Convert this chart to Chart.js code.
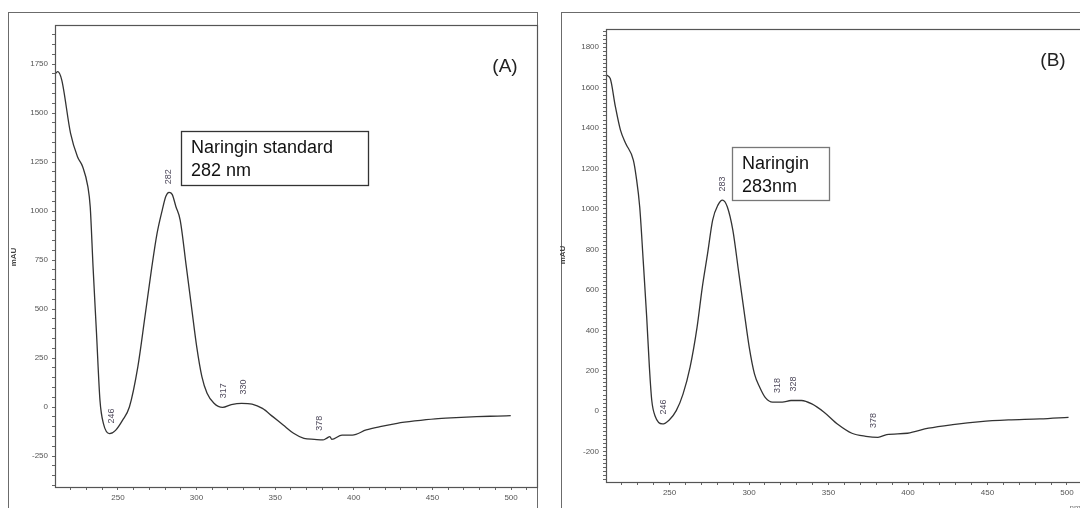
<!DOCTYPE html>
<html>
<head>
<meta charset="utf-8">
<script src="https://cdn.jsdelivr.net/npm/chart.js@4.4.1/dist/chart.umd.min.js"></script>
<style>
html, body { margin:0; padding:0; width:1080px; height:508px; overflow:hidden; background:#fff; }
.frame { position:absolute; border:1px solid #6b6b6b; box-sizing:border-box; border-bottom:none; }
canvas { position:absolute; top:0; }
</style>
</head>
<body>
<div class="frame" style="left:8px;top:12px;width:530px;height:500px;"></div>
<div class="frame" style="left:561px;top:12px;width:600px;height:500px;border-right:none;"></div>
<canvas id="chartA" width="540" height="508" style="left:0"></canvas>
<canvas id="chartB" width="550" height="508" style="left:540px"></canvas>
<script>
// spectrum (A) - naringin standard
const nmA  = [210, 211.7, 214.3, 219.9, 224.3, 227.6, 230.9, 232.4, 234.2, 236.4, 238.6, 240.8, 244.7, 248.5, 252.9, 257.3,
              262.7, 267.2, 271.6, 274.9, 278.2, 280.5, 282.5, 284.5, 286.9, 289.6, 293.5, 296.8, 300.1, 303.4, 306.7, 311.1,
              316.6, 322.1, 328.7, 335.3, 341.9, 348.5, 355.1, 361.7, 368.3, 374.9, 380.4, 382.6, 384.8, 386, 392.5, 399.1,
              407.9, 416.7, 427.6, 438.7, 451.8, 465, 478.2, 491.4, 499.8];
const mauA = [1699, 1711, 1668, 1396, 1277, 1226, 1124, 1021, 715, 375, 34, -85, -136, -119, -68, 0,
              206, 461, 716, 886, 1005, 1075, 1095, 1085, 1022, 954, 716, 511, 308, 155, 70, 19,
              -2, 12, 19, 15, -7, -49, -92, -134, -160, -165, -168, -160, -151, -165, -143, -143,
              -117, -100, -83, -71, -60, -54, -49, -46, -44];
const peaksA = [246, 282, 317, 330, 378];

// spectrum (B) - naringin in sample
const nmB  = [209.9, 212.6, 215.9, 219.1, 222.4, 227.2, 229, 231.2, 233.4, 235.6, 237.3, 238.8, 241, 245.4, 249.8, 254.2,
              258.5, 262.9, 267.3, 270.6, 273.9, 277.1, 280.4, 283.3, 286.3, 289.8, 293.6, 296.8, 300.1, 303.4, 306.7, 310.4,
              314.8, 320.9, 326.4, 333, 339.5, 347.2, 356, 364.7, 373.5, 381.1, 386.6, 399.7, 412.9, 428.2, 445.7, 463.2,
              482.9, 501];
const mauB = [1663, 1646, 1506, 1390, 1324, 1242, 1159, 1011, 746, 466, 218, 53, -26, -63, -43, 3,
              86, 218, 416, 614, 779, 945, 1019, 1044, 1011, 895, 680, 499, 317, 185, 119, 66,
              45, 45, 53, 53, 36, -5, -66, -109, -124, -129, -116, -109, -84, -66, -51, -43,
              -38, -30];
const peaksB = [246, 283, 318, 328, 378];

const xMajor  = [250, 300, 350, 400, 450, 500];
const yMajorA = [-250, 0, 250, 500, 750, 1000, 1250, 1500, 1750];
const yMajorB = [-200, 0, 200, 400, 600, 800, 1000, 1200, 1400, 1600, 1800];

const FONT = "'Liberation Sans', Arial, sans-serif";

function stepTicks(from, to, step) {
    const out = [];
    for (let v = from; v <= to; v += step) out.push(v);
    return out;
}

function valueAt(xs, ys, x) {
    for (let i = 1; i < xs.length; i++) {
        if (x <= xs[i]) {
            const t = (x - xs[i-1]) / (xs[i] - xs[i-1]);
            return ys[i-1] + t * (ys[i] - ys[i-1]);
        }
    }
    return ys[ys.length - 1];
}

// frame, peak labels, boxes and panel letters
const decoPlugin = {
    id: 'deco',
    afterDatasetsDraw(chart, args, o) {
        const ctx = chart.ctx, a = chart.chartArea;
        const sx = chart.scales.x, sy = chart.scales.y;
        ctx.save();
        ctx.strokeStyle = '#555';
        ctx.lineWidth = 1.2;
        ctx.strokeRect(a.left + 0.5, a.top + 0.5, a.right - a.left, a.bottom - a.top);

        // peak wavelengths, rotated
        ctx.fillStyle = '#4f4a5c';
        ctx.font = '9px ' + FONT;
        ctx.textAlign = 'left';
        ctx.textBaseline = 'middle';
        o.peaks.forEach(p => {
            const px = sx.getPixelForValue(p);
            const py = sy.getPixelForValue(valueAt(o.xs, o.ys, p)) - 9;
            ctx.save();
            ctx.translate(px, py);
            ctx.rotate(-Math.PI / 2);
            ctx.fillText(String(p), 0, 0);
            ctx.restore();
        });

        // axis title
        ctx.save();
        ctx.translate(o.mau[0], o.mau[1]);
        ctx.rotate(-Math.PI / 2);
        ctx.textAlign = 'center';
        ctx.fillStyle = '#444';
        ctx.font = 'bold 8px ' + FONT;
        ctx.fillText('mAU', 0, 0);
        ctx.restore();

        if (o.unit) {
            ctx.fillStyle = '#777';
            ctx.font = '8px ' + FONT;
            ctx.textAlign = 'center';
            ctx.fillText(o.unit[2], o.unit[0], o.unit[1]);
        }

        // panel letter
        ctx.fillStyle = '#222';
        ctx.font = '19px ' + FONT;
        ctx.textAlign = 'center';
        ctx.fillText(o.tag, o.tagPos[0], o.tagPos[1]);

        // annotation box
        const b = o.box;
        ctx.fillStyle = '#fff';
        ctx.fillRect(b.x, b.y, b.w, b.h);
        ctx.strokeStyle = b.color;
        ctx.lineWidth = 1.3;
        ctx.strokeRect(b.x + 0.5, b.y + 0.5, b.w, b.h);
        ctx.fillStyle = '#111';
        ctx.font = '18px ' + FONT;
        ctx.textAlign = 'left';
        ctx.textBaseline = 'alphabetic';
        b.lines.forEach((t, i) => ctx.fillText(t, b.x + 10, b.y + 22 + i * 22.5));
        ctx.restore();
    }
};

function makeChart(id, xs, ys, peaks, yMajor, yMinorStep, yRange, xMax, yWidth, xHeight, padTop, padRight, deco) {
    const yTicks = stepTicks(Math.ceil(yRange[0] / yMinorStep) * yMinorStep, yRange[1], yMinorStep);
    const xTicks = stepTicks(220, 510, 10).filter(v => v < xMax);
    return new Chart(document.getElementById(id), {
        type: 'line',
        data: {
            datasets: [{
                data: xs.map((x, i) => ({ x: x, y: ys[i] })),
                borderColor: '#333',
                borderWidth: 1.3,
                pointRadius: 0,
                fill: false,
                cubicInterpolationMode: 'monotone'
            }]
        },
        options: {
            responsive: false,
            animation: false,
            layout: { padding: { top: padTop, right: padRight, left: 0, bottom: 0 } },
            plugins: {
                legend: { display: false },
                tooltip: { enabled: false },
                deco: Object.assign({ xs: xs, ys: ys, peaks: peaks }, deco)
            },
            scales: {
                x: {
                    type: 'linear', min: 210, max: xMax,
                    afterBuildTicks: s => { s.ticks = xTicks.map(v => ({ value: v })); },
                    afterFit: s => { s.height = xHeight; },
                    border: { display: false },
                    grid: { drawOnChartArea: false, tickLength: 3, color: '#666' },
                    ticks: {
                        autoSkip: false, maxRotation: 0, padding: 3, color: '#555',
                        font: { family: FONT, size: 8 },
                        callback: v => xMajor.includes(v) ? String(v) : ''
                    }
                },
                y: {
                    type: 'linear', min: yRange[0], max: yRange[1],
                    afterBuildTicks: s => { s.ticks = yTicks.map(v => ({ value: v })); },
                    afterFit: s => { s.width = yWidth; },
                    border: { display: false },
                    grid: { drawOnChartArea: false, tickLength: 3, color: '#666' },
                    ticks: {
                        autoSkip: false, padding: 4, color: '#555',
                        font: { family: FONT, size: 8 },
                        callback: v => yMajor.includes(v) ? String(v) : ''
                    }
                }
            }
        },
        plugins: [decoPlugin]
    });
}

makeChart('chartA', nmA, mauA, peaksA, yMajorA, 50, [-408, 1949], 516.5, 55, 21, 25, 3, {
    tag: '(A)', tagPos: [505, 67], mau: [14, 257],
    box: { x: 181, y: 131, w: 187, h: 54, color: '#333', lines: ['Naringin standard', '282 nm'] }
});

makeChart('chartB', nmB, mauB, peaksB, yMajorB, 20, [-350, 1890], 514.5, 66, 26, 29, 0, {
    tag: '(B)', tagPos: [513, 61], mau: [23, 255], unit: [535, 508, 'nm'],
    box: { x: 192, y: 147, w: 97, h: 53, color: '#777', lines: ['Naringin', '283nm'] }
});
</script>
</body>
</html>
